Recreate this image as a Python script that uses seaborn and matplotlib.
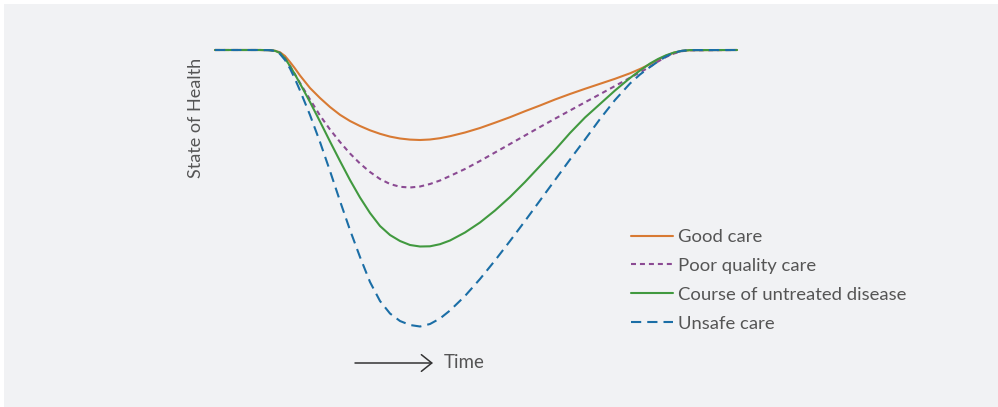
import numpy as np
import pandas as pd
import matplotlib
matplotlib.use("Agg")
import matplotlib.pyplot as plt
import seaborn as sns
from matplotlib.patches import Rectangle

sns.set_theme(style="white")
plt.rcParams['font.family'] = ['Lato', 'DejaVu Sans']

# time (arbitrary units) and loss of health from the healthy baseline
time = [0, 45, 55, 60, 65, 70, 75, 80, 85, 95,
        105, 115, 125, 135, 145, 155, 165, 175, 185, 195,
        205, 215, 225, 235, 250, 265, 280, 295, 310, 325,
        340, 355, 370, 385, 400, 415, 425, 435, 443, 451,
        459, 467, 475, 522]

good_care = [0, 0, 0.2, 0.8, 2.3, 6, 12, 18.5, 25.5, 38,
             48, 57, 64.8, 71, 76, 80.3, 83.8, 86.6, 88.5, 89.6,
             90, 89.5, 88.2, 86.2, 82.5, 78, 72.7, 67.2, 61.2, 55.5,
             49.5, 44, 38.8, 33.8, 28.8, 23.3, 19, 14.2, 9.8, 5.8,
             2.7, 0.9, 0.2, 0]
poor_care = [0, 0, 0.2, 0.8, 2.8, 8, 16, 24.5, 33, 49.5,
             65.5, 79.5, 92, 103.5, 113.5, 122, 129, 134, 136.8, 137.5,
             136.5, 134, 130.5, 126, 119, 111, 102.5, 94, 85.5, 77,
             68.7, 60.5, 52.3, 44.2, 36, 27.8, 22.3, 16.8, 11.5, 7,
             3.5, 1.2, 0.3, 0]
untreated = [0, 0, 0.2, 0.8, 3, 8.5, 16, 24.5, 33.5, 52,
             71.5, 91.5, 111, 130, 147.5, 163, 176, 185, 191, 195,
             196.5, 196.3, 194.2, 190.5, 182.5, 172.5, 160.5, 147, 132, 116,
             100, 83, 67.5, 54, 40.5, 28, 20.5, 13.5, 9, 5.3,
             2.5, 0.8, 0.1, 0]
unsafe_care = [0, 0, 0.2, 1, 4, 10, 18.5, 29, 40.5, 65,
               92, 121, 151, 180, 207, 232, 251, 263.5, 271, 275,
               276.5, 274, 268.5, 260.5, 246, 229, 210.5, 191, 171, 150.5,
               130, 109.5, 89.5, 69, 50, 33.5, 24.5, 17, 11.5, 6.5,
               2.8, 0.8, 0.1, 0]

labels = ["Good care", "Poor quality care", "Course of untreated disease", "Unsafe care"]
colors = ["#d87a33", "#8b4b93", "#41993f", "#1b6ea6"]

df = pd.DataFrame({
    "Time": time * 4,
    "Loss": good_care + poor_care + untreated + unsafe_care,
    "Series": sum([[lab] * len(time) for lab in labels], []),
})

W, H = 998, 407
fig = plt.figure(figsize=(W / 100, H / 100), dpi=100)
fig.patch.set_facecolor("white")
fig.patches.append(Rectangle((4 / W, 0), 994 / W, 403 / H, transform=fig.transFigure,
                             facecolor="#f1f2f4", edgecolor="none", zorder=-10))

ax = fig.add_axes([215 / W, 1 - 330 / H, 522 / W, 280 / H])
ax.patch.set_alpha(0)

dash_map = {
    "Good care": "",
    "Poor quality care": (2.4, 1.9),
    "Course of untreated disease": "",
    "Unsafe care": (4.9, 2.9),
}

sns.lineplot(data=df, x="Time", y="Loss", hue="Series", style="Series",
             hue_order=labels, style_order=labels, palette=dict(zip(labels, colors)),
             dashes=dash_map, linewidth=1.5, ax=ax, legend=True)

for ln in ax.lines:
    ln.set_clip_on(False)
    ln.set_solid_capstyle("round")

ax.set_xlim(0, 522)
ax.set_ylim(280, 0)
ax.axis("off")

handles, labs = ax.get_legend_handles_labels()
for h in handles:
    h.set_linewidth(1.5)
leg = ax.legend(handles, labs, loc="upper left", bbox_to_anchor=(631 / W, 1 - 229 / H),
                bbox_transform=fig.transFigure, frameon=False, fontsize=13.3,
                handlelength=2.25, handletextpad=0.3, labelspacing=0.7,
                borderpad=0, borderaxespad=0)
for t in leg.get_texts():
    t.set_color("#555555")

fig.text(196 / W, 1 - 118 / H, "State of Health", rotation=90, ha="center", va="center",
         fontsize=13, color="#555555")

ax.annotate("", xy=(433 / W, 1 - 363 / H), xytext=(355 / W, 1 - 363 / H),
            xycoords="figure fraction", textcoords="figure fraction",
            arrowprops=dict(arrowstyle="->, head_length=0.5, head_width=0.4",
                            color="#333333", lw=1.1, mutation_scale=15,
                            shrinkA=0, shrinkB=0))
fig.text(444 / W, 1 - 363 / H, "Time", ha="left", va="center", fontsize=13.5, color="#555555")

fig.savefig("out.png", dpi=100, facecolor=fig.get_facecolor())
